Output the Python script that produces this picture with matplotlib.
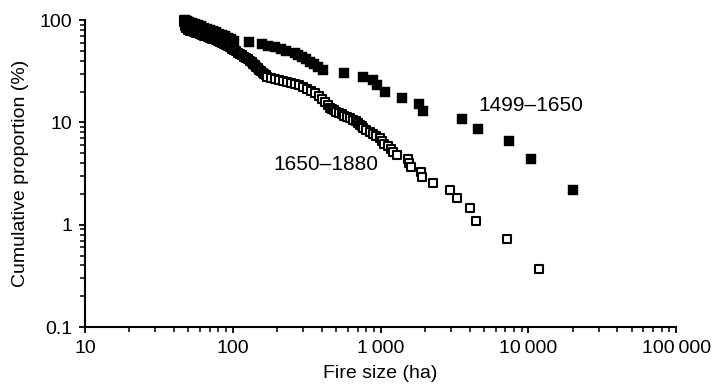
import matplotlib
matplotlib.use("Agg")
import matplotlib.pyplot as plt
from matplotlib.ticker import LogLocator, NullFormatter

plt.rcParams['font.family'] = ['Liberation Sans', 'DejaVu Sans']

# 1499-1650 period (filled squares), fire size (ha) vs cumulative proportion (%)
early_size = [47.5, 49.0, 50.6, 53.0, 55.5, 58.2, 61.0, 63.8, 66.9, 70.1,
              73.5, 77.0, 80.7, 84.5, 88.6, 92.9, 97.3, 102, 129, 158,
              173, 193, 212, 229, 264, 277, 294, 313, 333, 355,
              378, 408, 566, 759, 889, 942, 1072, 1390, 1833, 1930,
              3550, 4590, 7450, 10440, 20000]
early_prop = [100, 97.8, 95.7, 93.5, 91.3, 89.1, 87.0, 84.8, 82.6, 80.4,
              78.3, 76.1, 73.9, 71.7, 69.6, 67.4, 65.2, 63.0, 60.9, 58.7,
              56.5, 54.3, 52.2, 50.0, 47.8, 45.7, 43.5, 41.3, 39.1, 37.0,
              34.8, 32.6, 30.5, 27.9, 25.9, 23.2, 19.9, 17.5, 15.3, 13.0,
              10.8, 8.73, 6.56, 4.35, 2.18]

# 1650-1880 period (open squares)
late_size = [46.8, 46.8, 47.5, 47.5, 48.3, 49.8, 51.4, 53.0, 54.7, 56.4,
             58.2, 60.0, 61.9, 63.8, 65.8, 67.9, 70.1, 72.4, 74.7, 77.0,
             79.5, 82.0, 84.6, 87.3, 90.1, 92.9, 95.9, 98.9, 102, 105,
             108, 112, 115, 119, 123, 127, 131, 135, 138, 141,
             144, 148, 151, 155, 159, 163, 167, 171, 181, 193,
             205, 218, 233, 248, 264, 281, 299, 318, 338, 360,
             384, 402, 421, 441, 455, 470, 484, 500, 524, 549,
             566, 594, 622, 652, 683, 705, 727, 750, 762, 798,
             849, 889, 933, 993, 1024, 1057, 1124, 1178, 1222, 1290,
             1540, 1560, 1600, 1880, 1900, 2250, 2950, 3310, 4040, 4400,
             7150, 11770]
late_prop = [100, 95.6, 91.4, 87.4, 83.5, 79.8, 78.9, 78.0, 76.7, 75.5,
             74.2, 73.0, 71.8, 70.6, 69.4, 68.2, 67.1, 66.0, 64.8, 63.7,
             62.3, 60.9, 59.5, 58.2, 56.9, 55.7, 54.1, 52.6, 51.2, 49.8,
             48.1, 46.5, 45.2, 44.0, 42.7, 41.5, 40.1, 38.8, 37.5, 36.3,
             35.1, 34.0, 32.8, 31.7, 30.7, 29.7, 28.9, 28.1, 27.4, 26.8,
             26.2, 25.6, 25.1, 24.5, 24.0, 23.1, 22.4, 21.3, 20.3, 19.2,
             18.3, 17.1, 16.0, 14.9, 13.9, 13.55, 13.2, 12.8, 12.45, 12.1,
             11.7, 11.4, 11.0, 10.6, 10.3, 9.9, 9.5, 9.2, 8.8, 8.4,
             8.1, 7.7, 7.3, 7.0, 6.6, 6.2, 5.9, 5.5, 5.1, 4.76,
             4.40, 4.03, 3.66, 3.30, 2.93, 2.56, 2.20, 1.83, 1.47, 1.10,
             0.73, 0.37]

x_ticks = [10, 100, 1000, 10000, 100000]
x_labels = ["10", "100", "1\u2009000", "10\u2009000", "100\u2009000"]
y_ticks = [0.1, 1, 10, 100]
y_labels = ["0.1", "1", "10", "100"]

fig = plt.figure(figsize=(7.14, 3.88), dpi=100)
ax = fig.add_axes([0.119, 0.157, 0.828, 0.791])

# open squares first, filled on top
ax.scatter(late_size, late_prop, marker="s", s=30, facecolor="white",
           edgecolor="black", linewidths=1.5, zorder=3, clip_on=False)
ax.scatter(early_size, early_prop, marker="s", s=44, facecolor="black",
           edgecolor="black", linewidths=0.3, zorder=4, clip_on=False)

ax.set_xscale("log")
ax.set_yscale("log")
ax.set_xlim(10, 100000)
ax.set_ylim(0.1, 100)

ax.set_xticks(x_ticks)
ax.set_xticklabels(x_labels)
ax.set_yticks(y_ticks)
ax.set_yticklabels(y_labels)
ax.xaxis.set_minor_locator(LogLocator(base=10, subs=range(2, 10)))
ax.yaxis.set_minor_locator(LogLocator(base=10, subs=range(2, 10)))
ax.xaxis.set_minor_formatter(NullFormatter())
ax.yaxis.set_minor_formatter(NullFormatter())

for side in ["top", "right"]:
    ax.spines[side].set_visible(False)
for side in ["left", "bottom"]:
    ax.spines[side].set_linewidth(1.5)

ax.tick_params(which="major", direction="out", length=4, width=1.3,
               labelsize=14, pad=5)
ax.tick_params(which="minor", direction="out", length=3.5, width=1.1)

ax.set_xlabel("Fire size (ha)", fontsize=14, labelpad=6)
ax.set_ylabel("Cumulative proportion (%)", fontsize=14, labelpad=8)

ax.text(4570, 14.8, "1499\u20131650", fontsize=15, va="center", ha="left")
ax.text(187, 3.91, "1650\u20131880", fontsize=15, va="center", ha="left")

fig.savefig("out.png", dpi=100)
